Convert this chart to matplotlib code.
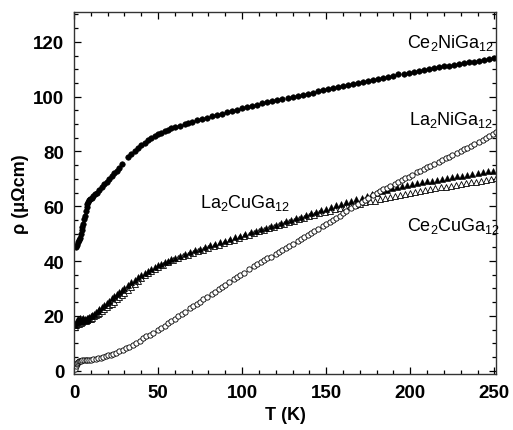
import matplotlib
matplotlib.use("Agg")
import matplotlib.pyplot as plt
from matplotlib.ticker import MultipleLocator

plt.rcParams['font.family'] = ['Liberation Sans', 'DejaVu Sans']
plt.rcParams['mathtext.fontset'] = 'custom'
plt.rcParams['mathtext.rm'] = 'Liberation Sans'
plt.rcParams['mathtext.it'] = 'Liberation Sans'
plt.rcParams['mathtext.bf'] = 'Liberation Sans:bold'

# Ce2NiGa12 (filled circles)
t_ce_ni = [1.5, 2.0, 2.5, 3.0, 3.5, 4.0, 4.5, 5.0, 5.5, 6.0, 6.5, 7.0, 7.5, 8.0, 8.5, 9.0, 9.5,
           10.5, 11.5, 12.5, 13.5, 15, 16.5, 18, 19.5, 21, 22.5, 24, 25.5, 27, 28.5, 32, 34, 36,
           38, 40, 42, 44, 46, 48, 50, 52, 54, 56, 58, 60, 63, 66, 68, 70, 73, 76, 79, 82, 85,
           88, 91, 94, 97, 100, 103, 106, 109, 112, 115, 118, 121, 124, 127, 130, 133, 136, 139,
           142, 145, 148, 151, 154, 157, 160, 163, 166, 169, 172, 175, 178, 181, 184, 187, 190,
           193, 196, 199, 202, 205, 208, 211, 214, 217, 220, 223, 226, 229, 232, 235, 238, 241,
           244, 247, 250]
rho_ce_ni = [45.2, 45.8, 46.8, 47.6, 48.6, 50.0, 51.2, 52.4, 53.6, 55.2, 56.6, 58.2, 59.6, 60.8,
             61.6, 62.3, 62.7, 63.2, 63.7, 64.3, 65.0, 65.9, 67.0, 68.0, 69.0, 70.0, 71.0, 72.0,
             73.0, 74.0, 75.5, 78.0, 79.2, 80.3, 81.4, 82.4, 83.2, 84.0, 84.8, 85.5, 86.2, 86.8,
             87.4, 87.9, 88.4, 88.8, 89.4, 89.9, 90.3, 90.7, 91.3, 91.8, 92.3, 92.8, 93.3, 93.8,
             94.3, 94.8, 95.2, 95.7, 96.2, 96.6, 97.1, 97.5, 97.9, 98.3, 98.7, 99.1, 99.5, 99.9,
             100.3, 100.7, 101.1, 101.5, 101.9, 102.3, 102.7, 103.1, 103.5, 103.9, 104.3, 104.7,
             105.0, 105.4, 105.8, 106.2, 106.6, 106.9, 107.3, 107.7, 108.1, 108.4, 108.8, 109.0,
             109.3, 109.6, 110.0, 110.3, 110.7, 111.0, 111.3, 111.6, 111.9, 112.2, 112.5, 112.8,
             113.1, 113.4, 113.7, 114.0]

# La2NiGa12 (open circles)
t_la_ni = [0.8, 1.2, 1.6, 2.0, 2.5, 3.0, 3.5, 4, 5, 6, 7, 8, 9, 10, 11.5, 13, 14.5, 16, 17.5, 19,
           20.5, 22, 23.5, 25, 27, 29, 31, 33, 35, 37, 39, 41, 43, 45, 47, 50, 52, 54, 56, 58,
           60, 62, 64, 66, 69, 71, 73, 75, 77, 79, 82, 84, 86, 88, 90, 92, 95, 97, 99, 101, 104,
           107, 109, 111, 113, 115, 117, 120, 122, 124, 126, 128, 130, 133, 135, 137, 139, 141,
           143, 145, 148, 150, 152, 154, 156, 158, 160, 162, 165, 167, 169, 171, 173, 175, 178,
           180, 182, 184, 186, 188, 191, 193, 195, 197, 199, 201, 204, 206, 208, 210, 212, 214,
           217, 219, 221, 223, 225, 228, 230, 232, 234, 236, 238, 241, 243, 245, 247, 249, 251]
rho_la_ni = [0.8, 1.6, 2.4, 2.9, 3.2, 3.4, 3.6, 3.7, 3.8, 3.9, 3.9, 4.0, 4.0, 4.0, 4.1, 4.3, 4.5,
             4.8, 5.0, 5.3, 5.6, 5.9, 6.2, 6.6, 7.1, 7.7, 8.3, 8.8, 9.4, 10.2, 11.0, 11.8, 12.5,
             13.2, 13.9, 14.9, 15.6, 16.4, 17.3, 18.1, 19.0, 19.8, 20.6, 21.5, 22.8, 23.6, 24.4,
             25.2, 26.0, 26.8, 28.1, 28.9, 29.8, 30.6, 31.4, 32.2, 33.4, 34.2, 35.0, 35.8, 37.0,
             38.2, 39.0, 39.7, 40.4, 41.0, 41.6, 42.6, 43.3, 44.0, 44.8, 45.5, 46.2, 47.3, 48.0,
             48.7, 49.4, 50.1, 50.9, 51.7, 52.8, 53.5, 54.3, 55.0, 55.8, 56.6, 57.4, 58.2, 59.3,
             60.0, 60.8, 61.5, 62.2, 62.9, 64.0, 64.8, 65.5, 66.2, 66.8, 67.4, 68.3, 69.0, 69.6,
             70.2, 70.8, 71.4, 72.4, 73.0, 73.6, 74.2, 74.8, 75.4, 76.3, 76.9, 77.5, 78.1, 78.7,
             79.6, 80.2, 80.8, 81.4, 82.0, 82.6, 83.5, 84.2, 84.9, 85.6, 86.3, 87.0]

# La2CuGa12 (filled triangles)
t_la_cu = [0.8, 1.2, 1.6, 2.0, 2.5, 3.0, 3.5, 4.0, 4.5, 5.0, 5.5, 6.0, 6.5, 7.0, 7.5, 8.0, 8.5,
           9.0, 10, 11, 12, 13, 14, 15, 16.5, 18, 19.5, 21, 22.5, 24, 25.5, 27, 28.5, 30, 32, 34,
           36, 38, 40, 42, 44, 46, 48, 50, 52, 54, 56, 58, 60, 63, 66, 69, 72, 75, 78, 81, 84, 87,
           90, 93, 96, 99, 102, 105, 108, 111, 114, 117, 120, 123, 126, 129, 132, 135, 138, 141,
           144, 147, 150, 153, 156, 159, 162, 165, 168, 171, 174, 177, 180, 183, 186, 189, 192,
           195, 198, 201, 204, 207, 210, 213, 216, 219, 222, 225, 228, 231, 234, 237, 240, 243,
           246, 249]
rho_la_cu = [16.5, 17.5, 18.5, 17.8, 18.9, 18.0, 19.2, 18.3, 19.0, 18.2, 19.3, 18.5, 19.0, 18.4,
             19.4, 18.6, 19.2, 19.5, 19.8, 20.2, 20.7, 21.3, 21.9, 22.4, 23.2, 24.0, 24.8, 25.6,
             26.4, 27.2, 28.0, 28.8, 29.5, 30.2, 31.3, 32.3, 33.2, 34.1, 35.0, 35.8, 36.5, 37.2,
             37.8, 38.4, 39.0, 39.6, 40.2, 40.7, 41.2, 41.9, 42.6, 43.2, 43.9, 44.5, 45.1, 45.7,
             46.3, 46.9, 47.5, 48.1, 48.7, 49.3, 49.9, 50.5, 51.1, 51.6, 52.2, 52.8, 53.3, 53.9,
             54.5, 55.1, 55.6, 56.2, 56.8, 57.4, 58.0, 58.5, 59.1, 59.7, 60.3, 60.8, 61.4, 62.0,
             62.6, 63.2, 63.8, 64.4, 64.9, 65.5, 66.0, 66.5, 67.0, 67.4, 67.8, 68.2, 68.5, 68.8,
             69.1, 69.4, 69.7, 70.0, 70.3, 70.6, 70.9, 71.2, 71.5, 71.8, 72.1, 72.4, 72.7, 73.0]

# Ce2CuGa12 (open triangles)
t_ce_cu = [0.8, 1.2, 1.6, 2.0, 2.5, 3.0, 3.5, 4.0, 5.0, 6.0, 7.0, 8.0, 9.0, 10, 11, 12, 13, 14,
           15, 16.5, 18, 19.5, 21, 22.5, 24, 25.5, 27, 28.5, 30, 32, 34, 36, 38, 40, 42, 44, 46,
           48, 50, 53, 56, 59, 62, 65, 68, 71, 74, 77, 80, 83, 86, 89, 92, 95, 98, 101, 104, 107,
           110, 113, 116, 119, 122, 125, 128, 131, 134, 137, 140, 143, 146, 149, 152, 155, 158,
           161, 164, 167, 170, 173, 176, 179, 182, 185, 188, 191, 194, 197, 200, 203, 206, 209,
           212, 215, 218, 221, 224, 227, 230, 233, 236, 239, 242, 245, 248, 251]
rho_ce_cu = [16.0, 16.8, 17.3, 17.0, 17.6, 17.2, 17.9, 17.5, 17.8, 18.0, 18.3, 18.5, 18.8, 19.0,
             19.4, 19.8, 20.2, 20.7, 21.2, 21.8, 22.5, 23.1, 23.8, 24.5, 25.2, 26.0, 26.8, 27.6,
             28.4, 29.5, 30.7, 31.8, 32.9, 33.9, 34.8, 35.6, 36.4, 37.0, 37.7, 38.6, 39.5, 40.3,
             41.0, 41.7, 42.4, 43.0, 43.6, 44.2, 44.8, 45.4, 46.0, 46.6, 47.2, 47.8, 48.4, 49.0,
             49.6, 50.2, 50.8, 51.4, 52.0, 52.6, 53.1, 53.7, 54.2, 54.8, 55.3, 55.8, 56.4, 56.9,
             57.4, 57.9, 58.4, 58.9, 59.3, 59.8, 60.2, 60.6, 61.0, 61.4, 61.8, 62.1, 62.5, 62.9,
             63.3, 63.6, 64.0, 64.4, 64.8, 65.1, 65.5, 65.8, 66.2, 66.5, 66.9, 67.2, 67.5, 67.8,
             68.1, 68.4, 68.7, 69.0, 69.3, 69.6, 69.9, 70.2]

fig = plt.figure(figsize=(5.13, 4.31), dpi=100)
ax = fig.add_axes([0.1442, 0.1299, 0.8227, 0.8388])

ax.plot(t_ce_cu, rho_ce_cu, linestyle='none', marker='^', markersize=3.8,
        markerfacecolor='white', markeredgecolor='black', markeredgewidth=0.6)
ax.plot(t_la_cu, rho_la_cu, linestyle='none', marker='^', markersize=4.0,
        markerfacecolor='black', markeredgecolor='black', markeredgewidth=0.4)
ax.plot(t_la_ni, rho_la_ni, linestyle='none', marker='o', markersize=3.8,
        markerfacecolor='white', markeredgecolor='black', markeredgewidth=0.6)
ax.plot(t_ce_ni, rho_ce_ni, linestyle='none', marker='o', markersize=4.0,
        markerfacecolor='black', markeredgecolor='black', markeredgewidth=0.4)

ax.text(198, 118, r'Ce$_2$NiGa$_{12}$', fontsize=13, ha='left', va='baseline')
ax.text(199.4, 90, r'La$_2$NiGa$_{12}$', fontsize=13, ha='left', va='baseline')
ax.text(75, 59.7, r'La$_2$CuGa$_{12}$', fontsize=13, ha='left', va='baseline')
ax.text(198, 51.3, r'Ce$_2$CuGa$_{12}$', fontsize=13, ha='left', va='baseline')

ax.set_xlim(0, 251)
ax.set_ylim(-1.2, 130.7)
ax.xaxis.set_major_locator(MultipleLocator(50))
ax.xaxis.set_minor_locator(MultipleLocator(10))
ax.yaxis.set_major_locator(MultipleLocator(20))
ax.yaxis.set_minor_locator(MultipleLocator(5))
ax.tick_params(which='both', direction='in', top=True, right=True, width=0.9)
ax.tick_params(which='major', length=5, labelsize=13.5, pad=7)
ax.tick_params(which='minor', length=3)
for lab in ax.get_xticklabels() + ax.get_yticklabels():
    lab.set_fontweight('bold')
for sp in ax.spines.values():
    sp.set_linewidth(1.0)
    sp.set_color('#333333')

ax.set_xlabel('T (K)', fontsize=13, fontweight='bold', labelpad=4)
ax.set_ylabel('ρ (μΩcm)', fontsize=13, fontweight='bold', labelpad=3)

fig.savefig('out.png', dpi=100)
